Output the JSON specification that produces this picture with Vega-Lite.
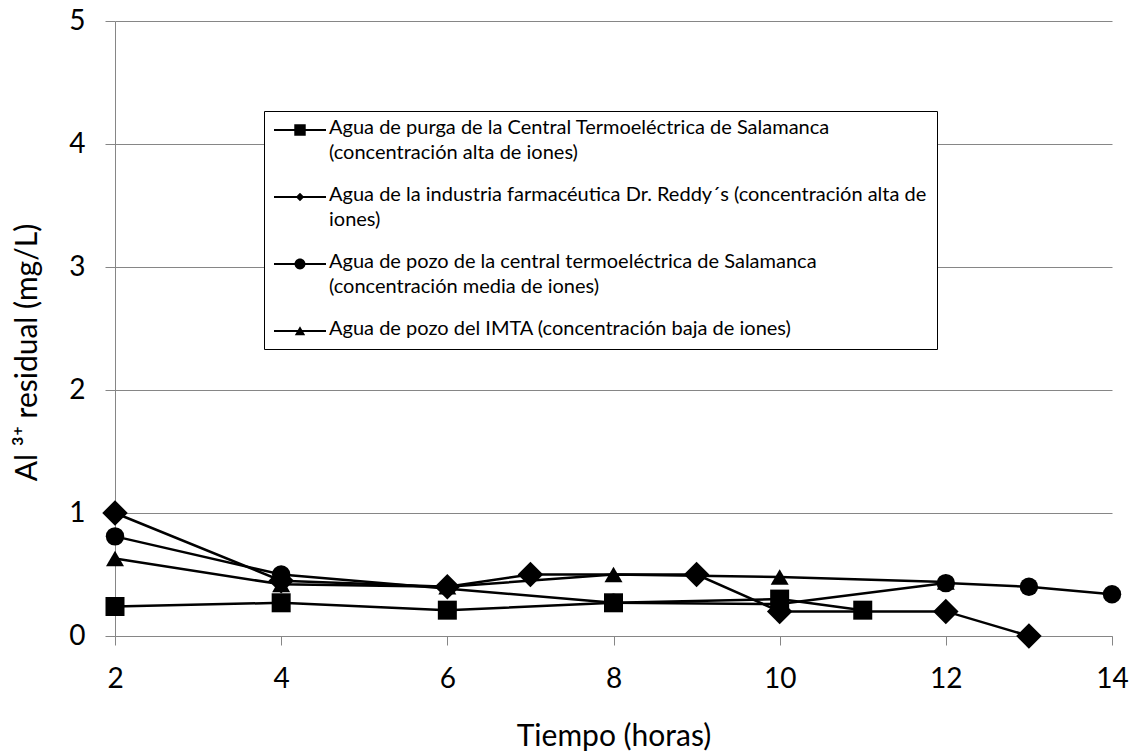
{
  "$schema": "https://vega.github.io/schema/vega-lite/v6.json",
  "width": 997,
  "height": 615,
  "autosize": "none",
  "padding": {"left": 115, "top": 21, "right": 18, "bottom": 116},
  "background": "white",
  "data": {
    "values": [
      {"serie": "imta", "t": 2, "al": 0.63},
      {"serie": "imta", "t": 4, "al": 0.42},
      {"serie": "imta", "t": 6, "al": 0.4},
      {"serie": "imta", "t": 8, "al": 0.5},
      {"serie": "imta", "t": 10, "al": 0.48},
      {"serie": "imta", "t": 12, "al": 0.44},
      {"serie": "reddy", "t": 2, "al": 1.0},
      {"serie": "reddy", "t": 4, "al": 0.45},
      {"serie": "reddy", "t": 6, "al": 0.4},
      {"serie": "reddy", "t": 7, "al": 0.5},
      {"serie": "reddy", "t": 9, "al": 0.5},
      {"serie": "reddy", "t": 10, "al": 0.2},
      {"serie": "reddy", "t": 12, "al": 0.2},
      {"serie": "reddy", "t": 13, "al": 0.0},
      {"serie": "pozo_cfe", "t": 2, "al": 0.81},
      {"serie": "pozo_cfe", "t": 4, "al": 0.5},
      {"serie": "pozo_cfe", "t": 8, "al": 0.27},
      {"serie": "pozo_cfe", "t": 10, "al": 0.26},
      {"serie": "pozo_cfe", "t": 12, "al": 0.43},
      {"serie": "pozo_cfe", "t": 13, "al": 0.4},
      {"serie": "pozo_cfe", "t": 14, "al": 0.34},
      {"serie": "purga", "t": 2, "al": 0.24},
      {"serie": "purga", "t": 4, "al": 0.27},
      {"serie": "purga", "t": 6, "al": 0.21},
      {"serie": "purga", "t": 8, "al": 0.27},
      {"serie": "purga", "t": 10, "al": 0.3},
      {"serie": "purga", "t": 11, "al": 0.21}
    ]
  },
  "encoding": {
    "x": {
      "field": "t",
      "type": "quantitative",
      "scale": {"domain": [2, 14], "nice": false, "zero": false},
      "axis": {
        "title": "Tiempo (horas)",
        "values": [2, 4, 6, 8, 10, 12, 14],
        "grid": false,
        "labelFlush": false,
        "tickSize": 9,
        "labelPadding": 20,
        "titlePadding": 28
      }
    },
    "y": {
      "field": "al",
      "type": "quantitative",
      "scale": {"domain": [0, 5], "nice": false},
      "axis": {
        "title": "Al ³⁺ residual (mg/L)",
        "values": [0, 1, 2, 3, 4, 5],
        "grid": true,
        "tickSize": 10,
        "labelPadding": 20,
        "titlePadding": 26,
        "titleY": 331
      }
    }
  },
  "layer": [
    {
      "mark": {"type": "line", "color": "black", "strokeWidth": 2.5},
      "encoding": {"detail": {"field": "serie"}}
    },
    {
      "mark": {"type": "point", "filled": true, "color": "black", "opacity": 1},
      "encoding": {
        "shape": {
          "field": "serie",
          "type": "nominal",
          "scale": {
            "domain": ["purga", "reddy", "pozo_cfe", "imta"],
            "range": ["square", "diamond", "circle", "triangle-up"]
          },
          "legend": null
        },
        "size": {
          "field": "serie",
          "type": "nominal",
          "scale": {
            "type": "ordinal",
            "domain": ["purga", "reddy", "pozo_cfe", "imta"],
            "range": [361, 650, 340, 324]
          },
          "legend": null
        }
      }
    },
    {
      "mark": {"type": "point", "filled": true, "color": "black", "opacity": 0},
      "encoding": {
        "shape": {
          "field": "serie",
          "type": "nominal",
          "scale": {
            "domain": ["purga", "reddy", "pozo_cfe", "imta"],
            "range": [
              "M-1,-0.39H3V-0.23H-1Z M0.56,-0.75H1.44V0.13H0.56Z",
              "M-1,-0.39H3V-0.23H-1Z M1,-0.63L1.32,-0.31L1,0.01L0.68,-0.31Z",
              "M-1,-0.39H3V-0.23H-1Z M0.58,-0.31A0.42,0.42,0,1,1,1.42,-0.31A0.42,0.42,0,1,1,0.58,-0.31Z",
              "M-1,-0.39H3V-0.23H-1Z M1,-0.68L1.4,0.02L0.6,0.02Z"
            ]
          },
          "legend": {
            "title": null,
            "orient": "none",
            "legendX": 149,
            "legendY": 90,
            "direction": "vertical",
            "padding": 10,
            "strokeColor": "black",
            "fillColor": "white",
            "symbolSize": 676,
            "symbolFillColor": "black",
            "symbolStrokeColor": "black",
            "symbolStrokeWidth": 0,
            "symbolOpacity": 1,
            "symbolOffset": 0,
            "labelFont": "Lato",
            "labelFontSize": 20,
            "labelColor": "black",
            "labelLimit": 800,
            "labelOffset": 29,
            "labelBaseline": "alphabetic",
            "rowPadding": 22,
            "labelExpr": "datum.value == 'purga' ? ['Agua de purga de la Central Termoeléctrica de Salamanca', '(concentración alta de iones)'] : datum.value == 'reddy' ? ['Agua de la industria farmacéutica Dr. Reddy´s (concentración alta de', 'iones)'] : datum.value == 'pozo_cfe' ? ['Agua de pozo de la central termoeléctrica de Salamanca', '(concentración media de iones)'] : 'Agua de pozo del IMTA (concentración baja de iones)'"
          }
        }
      }
    }
  ],
  "resolve": {"scale": {"shape": "independent"}},
  "config": {
    "font": "Lato",
    "view": {"stroke": null},
    "style": {"guide-label": {"lineHeight": 25}},
    "axis": {
      "domainColor": "#868686",
      "domainWidth": 1,
      "tickColor": "#868686",
      "tickWidth": 1,
      "gridColor": "#868686",
      "gridWidth": 1,
      "gridOpacity": 1,
      "labelFont": "Lato",
      "labelFontSize": 28,
      "labelColor": "black",
      "titleFont": "Lato",
      "titleFontSize": 30,
      "titleFontWeight": "normal",
      "titleColor": "black"
    }
  }
}
